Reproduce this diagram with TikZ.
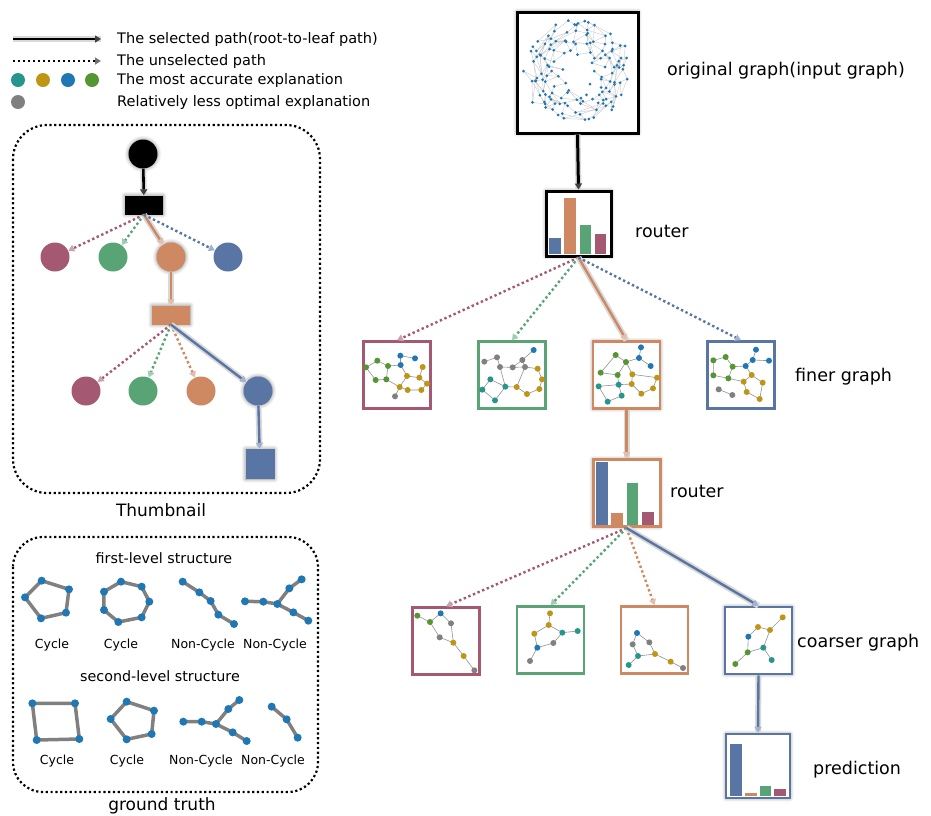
\documentclass[tikz,border=0pt]{standalone}
\usepackage{fontspec}
\setmainfont{DejaVu Sans}
\usetikzlibrary{arrows.meta,shadows.blur}
\definecolor{cpink}{RGB}{165,88,114}
\definecolor{cgreen}{RGB}{88,164,116}
\definecolor{corange}{RGB}{206,137,98}
\definecolor{cblue}{RGB}{88,117,164}
\definecolor{dteal}{RGB}{38,150,140}
\definecolor{dgold}{RGB}{190,150,20}
\definecolor{dblue}{RGB}{31,119,180}
\definecolor{dgreen}{RGB}{85,150,50}
\definecolor{dgray}{RGB}{128,128,128}
\newcommand\sgdots[2]{\foreach \p in {#2}{\fill[#1] \p circle[radius=9];}}
\newcommand\gtdots[1]{\foreach \p in {#1}{\fill[dblue] \p circle[radius=12];}}
\begin{document}
\begin{tikzpicture}[x=1pt,y=-1pt,
  glow/.style={blur shadow={shadow xshift=0pt,shadow yshift=0pt,shadow blur radius=4pt,shadow opacity=45,shadow blur steps=8}},
  sel/.style={line width=2.4pt, draw=#1, -{Triangle[length=6pt,width=7pt,color=#1!55]},
     preaction={draw=black!15, line width=6pt, arrows=-}},
  selk/.style={line width=2.6pt, draw=black, -{Triangle[length=6pt,width=7pt,color=black!75]},
     preaction={draw=black!15, line width=6pt, arrows=-}},
  unsel/.style={line width=2.4pt, draw=#1, dash pattern=on 2.4pt off 2.6pt, -{Triangle[length=6pt,width=7pt,color=#1!55]}},
  tcirc/.style={circle, fill=#1, minimum size=29pt, inner sep=0pt},
  trect/.style={rectangle, fill=#1, minimum width=38pt, minimum height=19pt, inner sep=0pt},
  gbox/.style={rectangle, draw=#1, line width=2.5pt, fill=white, minimum size=67pt, inner sep=0pt},
  rbox/.style={rectangle, draw=#1, line width=3pt, fill=white, inner sep=0pt},
  lgtext/.style={anchor=west, inner sep=0pt, font=\fontsize{14.5}{17}\selectfont},
  bigtext/.style={anchor=west, inner sep=0pt, font=\fontsize{17.5}{20}\selectfont},
  gtlab/.style={inner sep=0pt, font=\fontsize{12.5}{15}\selectfont},
  gthead/.style={inner sep=0pt, font=\fontsize{14.3}{17}\selectfont},
  sgedge/.style={draw=gray!85, line width=0.6pt},
  gtedge/.style={draw=dgray, line width=3.5pt},
  ogedge/.style={draw=gray!45, line width=0.35pt},
  tbox/.style={draw=black, line width=2.2pt, dash pattern=on 2.2pt off 2.6pt}
]
\useasboundingbox (0,0) rectangle (931,815);

% ---------------- legend ----------------
\coordinate (l1a) at (13,39); \coordinate (l1b) at (101,39);
\coordinate (l2a) at (13,61); \coordinate (l2b) at (101,61);
\draw[selk] (l1a) -- (l1b);
\draw[unsel=black] (l2a) -- (l2b);
\node[lgtext] (lt1) at (117,39) {The selected path(root-to-leaf path)};
\node[lgtext] (lt2) at (117,61) {The unselected path};
\node[lgtext] (lt3) at (117,80) {The most accurate explanation};
\node[lgtext] (lt4) at (117,102) {Relatively less optimal explanation};
\fill[dteal] (18,80) circle[radius=7];
\fill[dgold] (43,80) circle[radius=7];
\fill[dblue] (68,80) circle[radius=7];
\fill[dgreen] (92,80) circle[radius=7];
\fill[dgray] (18,102) circle[radius=7];

% ---------------- thumbnail ----------------
\draw[tbox, rounded corners=34pt] (13,125) rectangle (320,493);
\node[inner sep=0pt, font=\fontsize{17}{20}\selectfont] (thumb) at (161,510) {Thumbnail};
\node[tcirc=black, glow] (t0) at (143,154) {};
\node[trect=black, glow] (tr1) at (144,205) {};
\node[tcirc=cpink] (ta1) at (55,257) {};
\node[tcirc=cgreen] (ta2) at (113,257) {};
\node[tcirc=corange, glow] (ta3) at (171,257) {};
\node[tcirc=cblue] (ta4) at (228,257) {};
\node[trect=corange, glow] (tr2) at (171,315) {};
\node[tcirc=cpink] (tb1) at (86,391) {};
\node[tcirc=cgreen] (tb2) at (143,391) {};
\node[tcirc=corange] (tb3) at (201,391) {};
\node[tcirc=cblue, glow] (tb4) at (258,391) {};
\node[rectangle, fill=cblue, minimum width=29pt, minimum height=30pt, inner sep=0pt, glow] (tsq) at (260,464) {};
\draw[selk] (t0) -- (tr1);
\draw[unsel=cpink] (tr1.south) -- (ta1);
\draw[unsel=cgreen] (tr1.south) -- (ta2);
\draw[sel=corange] (tr1.south) -- (ta3);
\draw[unsel=cblue] (tr1.south) -- (ta4);
\draw[sel=corange] (ta3) -- (tr2);
\draw[unsel=cpink] (tr2.south) -- (tb1);
\draw[unsel=cgreen] (tr2.south) -- (tb2);
\draw[unsel=corange] (tr2.south) -- (tb3);
\draw[sel=cblue] (tr2.south) -- (tb4);
\draw[sel=cblue] (tb4) -- (tsq);

% ---------------- ground truth ----------------
\draw[tbox, rounded corners=30pt] (13,537) rectangle (318,792);
\node[anchor=base, inner sep=0pt, font=\fontsize{17}{20}\selectfont] (gtl) at (162,810) {ground truth};
\node[gthead] (h1) at (164,558) {first-level structure};
\node[gthead] (h2) at (160,676) {second-level structure};
\node[gtlab] (c1) at (52,645) {Cycle};
\node[gtlab] (c2) at (121,645) {Cycle};
\node[gtlab] (c3) at (203,645) {Non-Cycle};
\node[gtlab] (c4) at (275,645) {Non-Cycle};
\node[gtlab] (c5) at (57,761) {Cycle};
\node[gtlab] (c6) at (127,761) {Cycle};
\node[gtlab] (c7) at (201,761) {Non-Cycle};
\node[gtlab] (c8) at (273,761) {Non-Cycle};
\begin{scope}[shift={(0,520)},scale=1/3]
  \draw[gtedge] (125,182)--(207,208)--(198,278)--(123,295)--(75,232)--cycle;
  \draw[gtedge] (363,185)--(425,200)--(448,245)--(425,292)--(355,306)--(312,270)--(312,215)--cycle;
  \draw[gtedge] (548,185)--(598,217)--(632,243)--(655,284)--(702,312);
  \draw[gtedge] (735,244)--(790,245)--(832,252)--(868,205)--(905,178) (832,252)--(880,277)--(925,302);
  \draw[gtedge] (97,550)--(225,550)--(238,657)--(110,660)--cycle;
  \draw[gtedge] (380,545)--(462,572)--(455,642)--(380,658)--(332,597)--cycle;
  \draw[gtedge] (550,605)--(605,605)--(648,612)--(685,567)--(718,540) (648,612)--(698,637)--(740,663);
  \draw[gtedge] (815,560)--(860,598)--(893,653);
  \gtdots{(125,182),(207,208),(198,278),(123,295),(75,232),
   (363,185),(425,200),(448,245),(425,292),(355,306),(312,270),(312,215),
   (548,185),(598,217),(632,243),(655,284),(702,312),
   (735,244),(790,245),(832,252),(868,205),(905,178),(880,277),(925,302),
   (97,550),(225,550),(238,657),(110,660),
   (380,545),(462,572),(455,642),(380,658),(332,597),
   (550,605),(605,605),(648,612),(685,567),(718,540),(698,637),(740,663),
   (815,560),(860,598),(893,653)}
\end{scope}

% ---------------- right side: boxes ----------------
\node[rbox=black, minimum size=121pt, glow] (og) at (577.5,72.5) {};
\node[bigtext] (ogl) at (667,71) {original graph(input graph)};
\pgfmathsetseed{11}
\foreach \i in {0,...,139}{%
  \pgfmathsetmacro\rr{10+41*sqrt((\i+1)/140)+5*rand}%
  \pgfmathsetmacro\ff{\i*0.381966}%
  \pgfmathsetmacro\aa{360*(\ff-floor(\ff))+12*rand}%
  \pgfmathsetmacro\px{577.5+\rr*cos(\aa)}%
  \pgfmathsetmacro\py{71+\rr*sin(\aa)}%
  \coordinate (og\i) at (\px,\py);%
}
\foreach \k/\m in {8/131,13/126,21/118,34/105}{%
  \foreach \i in {0,...,\m}{%
    \pgfmathsetmacro\keep{rnd<0.5 ? 1 : 0}%
    \ifdim\keep pt>0.5pt
      \pgfmathtruncatemacro\j{\i+\k}\draw[ogedge] (og\i)--(og\j);
    \fi
  }%
}
\foreach \i in {0,...,139}{\fill[dblue] (og\i) circle[radius=1.5];}

% router 1
\node[rbox=black, minimum size=65pt, glow] (r1) at (578.5,223.5) {};
\fill[cblue] (549,238) rectangle (561,254);
\fill[corange] (564,198) rectangle (576,254);
\fill[cgreen] (580,225) rectangle (591,254);
\fill[cpink] (595,234) rectangle (606,254);
\node[bigtext] (r1l) at (635,231) {router};

% finer graphs
\node[gbox=cpink] (f1) at (397,375) {};
\node[gbox=cgreen] (f2) at (512,375) {};
\node[gbox=corange, glow] (f3) at (626.5,375) {};
\node[gbox=cblue] (f4) at (741,375) {};
\node[bigtext] (fl) at (795,377) {finer graph};

\begin{scope}[shift={(350,335)},scale=1/3]
  % f1
  \draw[sgedge] (48,97)--(82,77)--(114,93)--(109,133)--(77,135)--cycle
    (114,93)--(152,90) (151,62)--(195,70) (151,62)--(152,90) (152,90)--(171,123)
    (171,123)--(208,128) (208,128)--(218,96) (208,128)--(231,146)--(214,165)--(173,165)--(149,156)--(171,123)
    (149,156)--(109,133) (149,156)--(135,184);
  \sgdots{dgreen}{(48,97),(82,77),(114,93),(109,133),(77,135)}
  \sgdots{dblue}{(151,62),(195,70),(152,90)}
  \sgdots{dgold}{(218,96),(171,123),(208,128),(231,146),(149,156),(173,165),(214,165)}
  \sgdots{dgray}{(135,184)}
  % f2
  \draw[sgedge] (403,80)--(441,67)--(450,96)--(488,97)--(517,75)--(525,96) (488,97)--(525,96)
    (517,75)--(551,45) (450,96)--(466,155) (525,96)--(500,156) (525,96)--(563,101)--(576,133)--(568,162)--(531,177)--(500,156)--(466,155)
    (466,155)--(421,133)--(397,164)--(435,196)--(466,155);
  \sgdots{dgray}{(403,80),(441,67),(450,96),(488,97),(517,75),(525,96)}
  \sgdots{dblue}{(551,45)}
  \sgdots{dteal}{(421,133),(397,164),(435,196),(466,155)}
  \sgdots{dgold}{(500,156),(563,101),(576,133),(568,162),(531,177)}
\end{scope}
\begin{scope}[shift={(580,335)},scale=1/3]
  % f3
  \draw[sgedge] (107,60)--(138,81)--(177,69)--(183,37) (177,69)--(212,93) (107,60)--(62,113)--(113,120)--(138,81)
    (138,81)--(157,118)--(231,128) (157,118)--(155,147) (113,120)--(116,149) (231,128)--(219,160)--(184,176)--(155,147)--(116,149)--(56,154)
    (116,149)--(125,182)--(83,200)--(56,154);
  \sgdots{dgreen}{(107,60),(138,81),(62,113),(113,120)}
  \sgdots{dblue}{(183,37),(177,69),(212,93)}
  \sgdots{dgold}{(157,118),(231,128),(155,147),(219,160),(184,176)}
  \sgdots{dteal}{(56,154),(116,149),(125,182),(83,200)}
  % f4
  \draw[sgedge] (400,76)--(437,66)--(458,95)--(445,130)--(400,121)--cycle
    (458,95)--(497,93)--(518,75)--(528,44) (518,75)--(567,77) (497,93)--(515,120)--(491,140) (515,120)--(548,143)--(539,192)--(500,171)--(491,140)--(445,130)
    (416,163)--(457,180);
  \sgdots{dgreen}{(400,76),(437,66),(458,95),(445,130),(400,121)}
  \sgdots{dblue}{(528,44),(518,75),(567,77),(497,93)}
  \sgdots{dgold}{(515,120),(491,140),(548,143),(500,171),(539,192)}
  \sgdots{dgray}{(416,163),(457,180)}
\end{scope}

% router 2
\node[rbox=corange, minimum size=67pt, glow] (r2) at (626.5,493) {};
\fill[cblue] (596,462) rectangle (608,525);
\fill[corange] (611,513) rectangle (623,525);
\fill[cgreen] (627,483) rectangle (638,525);
\fill[cpink] (642,512) rectangle (654,525);
\node[bigtext] (r2l) at (670,491) {router};

% coarser graphs
\node[gbox=cpink] (k1) at (446,641) {};
\node[gbox=cgreen] (k2) at (550.5,640) {};
\node[gbox=corange] (k3) at (654.5,640) {};
\node[gbox=cblue, glow] (k4) at (758.5,640.5) {};
\node[bigtext] (kl) at (797,643) {coarser graph};
\begin{scope}[shift={(400,450)},scale=1/3]
  \draw[sgedge] (52,497)--(90,516)--(122,490)--(153,520)--(160,578) (90,516)--(119,562)--(160,578)--(191,618)--(223,661);
  \sgdots{dgreen}{(52,497),(90,516)}
  \sgdots{dblue}{(122,490)}
  \sgdots{dgray}{(153,520),(119,562),(223,661)}
  \sgdots{dgold}{(160,578),(191,618)}
  \draw[sgedge] (450,490)--(446,525)--(403,551) (446,525)--(487,548)--(533,543) (487,548)--(460,579)--(412,593)--(403,551) (412,593)--(390,633);
  \sgdots{dgold}{(450,490),(446,525),(403,551)}
  \sgdots{dteal}{(487,548),(533,543)}
  \sgdots{dgray}{(460,579),(390,633)}
  \sgdots{dblue}{(412,593)}
  \draw[sgedge] (711,549)--(698,583)--(714,618)--(765,612)--(748,577)--(711,549) (714,618)--(686,645) (765,612)--(812,635)--(849,654);
  \sgdots{dblue}{(711,549)}
  \sgdots{dgray}{(698,583),(748,577),(849,654)}
  \sgdots{dteal}{(714,618),(686,645)}
  \sgdots{dgold}{(765,612),(812,635)}
  \draw[sgedge] (1148,502)--(1110,540)--(1074,531)--(1045,560)--(1043,607)--(1006,642) (1043,607)--(1090,593)--(1110,540) (1090,593)--(1115,630);
  \sgdots{dgold}{(1148,502),(1110,540),(1074,531)}
  \sgdots{dblue}{(1045,560)}
  \sgdots{dgreen}{(1043,607),(1006,642)}
  \sgdots{dteal}{(1090,593),(1115,630)}
\end{scope}

% prediction
\node[rbox=cblue, line width=2.5pt, minimum size=64pt, glow] (pr) at (758,766) {};
\fill[cblue] (730,744) rectangle (742,796);
\fill[corange] (745,793) rectangle (757,796);
\fill[cgreen] (760,786) rectangle (771,796);
\fill[cpink] (774,789) rectangle (786,796);
\node[bigtext] (prl) at (813,770) {prediction};

% connectors
\draw[selk, line width=3pt] (og.south) -- (r1.north);
\draw[unsel=cpink] (r1.south) -- (f1.north);
\draw[unsel=cgreen] (r1.south) -- (f2.north);
\draw[sel=corange] (r1.south) -- (f3.north);
\draw[unsel=cblue] (r1.south) -- (f4.north);
\draw[sel=corange] (f3.south) -- (r2.north);
\draw[unsel=cpink] (r2.south) -- (k1.north);
\draw[unsel=cgreen] (r2.south) -- (k2.north);
\draw[unsel=corange] (r2.south) -- (k3.north);
\draw[sel=cblue] (r2.south) -- (k4.north);
\draw[sel=cblue] (k4.south) -- (pr.north);
\end{tikzpicture}
\end{document}
